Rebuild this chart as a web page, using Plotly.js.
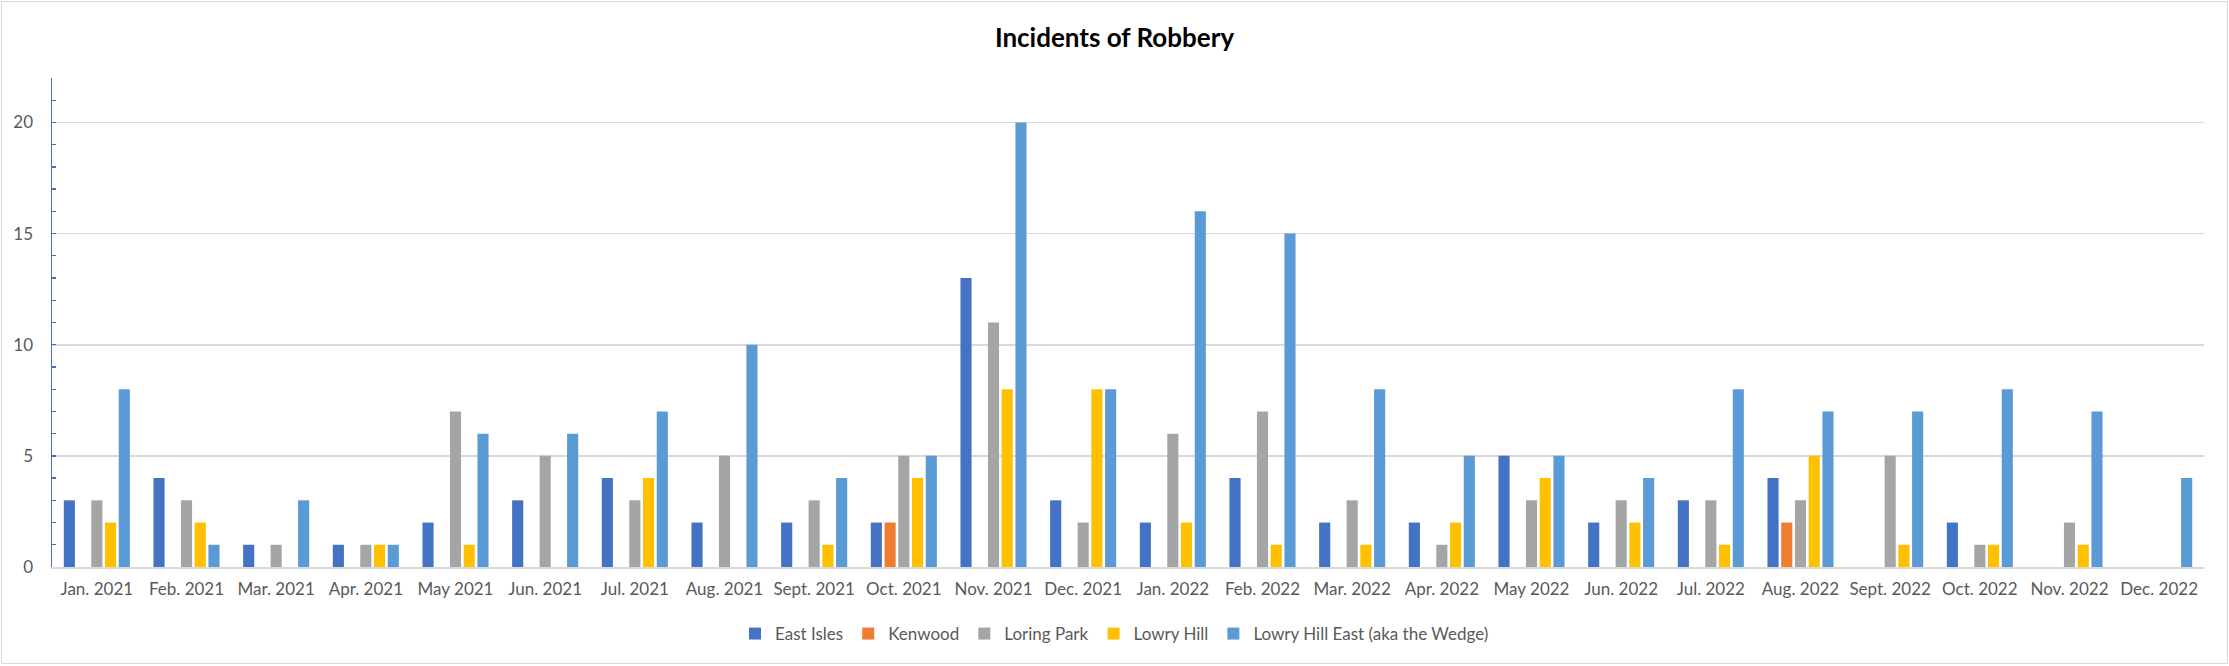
<!DOCTYPE html>
<html>
<head>
<meta charset="utf-8">
<script src="https://cdn.plot.ly/plotly-3.0.1.min.js"></script>
<style>
  html, body { margin: 0; padding: 0; background: #ffffff; }
  #wrap { position: relative; width: 2229px; height: 666px; }
  #chart { width: 2229px; height: 666px; }
  #frame { position: absolute; left: 1px; top: 1px; width: 2225px; height: 661px; border: 1px solid #d9d9d9; pointer-events: none; }
</style>
</head>
<body>
<div id="wrap">
  <div id="chart"></div>
  <div id="frame"></div>
</div>
<script>
const months = ["Jan. 2021","Feb. 2021","Mar. 2021","Apr. 2021","May 2021","Jun. 2021","Jul. 2021","Aug. 2021","Sept. 2021","Oct. 2021","Nov. 2021","Dec. 2021",
                "Jan. 2022","Feb. 2022","Mar. 2022","Apr. 2022","May 2022","Jun. 2022","Jul. 2022","Aug. 2022","Sept. 2022","Oct. 2022","Nov. 2022","Dec. 2022"];
const eastIsles     = [3,4,1,1,2,3,4,2,2,2,13,3, 2,4,2,2,5,2,3,4,0,2,0,0];
const kenwood       = [0,0,0,0,0,0,0,0,0,2,0,0, 0,0,0,0,0,0,0,2,0,0,0,0];
const loringPark    = [3,3,1,1,7,5,3,5,3,5,11,2, 6,7,3,1,3,3,3,3,5,1,2,0];
const lowryHill     = [2,2,0,1,1,0,4,0,1,4,8,8, 2,1,1,2,4,2,1,5,1,1,1,0];
const lowryHillEast = [8,1,3,1,6,6,7,10,4,5,20,8, 16,15,8,5,5,4,8,7,7,8,7,4];
const seriesNames = ["East Isles","Kenwood","Loring Park","Lowry Hill","Lowry Hill East (aka the Wedge)"];
const seriesColors = ["#4472C4","#ED7D31","#A5A5A5","#FFC000","#5B9BD5"];
const yTicks = [0,5,10,15,20];

const seriesValues = [eastIsles, kenwood, loringPark, lowryHill, lowryHillEast];
const traces = seriesValues.map((vals, i) => ({
  type: 'bar',
  name: seriesNames[i],
  x: months,
  y: vals,
  marker: { color: seriesColors[i], line: { width: 0 } },
  hoverinfo: 'x+y+name'
}));

const FONT = 'Lato, "Open Sans", sans-serif';
const layout = {
  width: 2229, height: 666,
  paper_bgcolor: '#ffffff', plot_bgcolor: '#ffffff',
  margin: { l: 52, r: 25, t: 78, b: 99, pad: 0 },
  font: { family: FONT, size: 17, color: '#595959' },
  title: {
    text: '<b>Incidents of Robbery</b>',
    font: { family: FONT, size: 26, color: '#000000' },
    x: 0.5, xref: 'container', xanchor: 'center',
    y: 1 - 38/666, yref: 'container', yanchor: 'middle'
  },
  barmode: 'group',
  bargap: 0.234,
  bargroupgap: 0.19,
  showlegend: true,
  legend: {
    orientation: 'h', x: 0.5, xanchor: 'center', xref: 'container',
    y: 1 - 634/666, yref: 'container', yanchor: 'middle',
    font: { family: FONT, size: 17, color: '#595959' },
    itemsizing: 'constant', traceorder: 'normal', bgcolor: 'rgba(0,0,0,0)'
  },
  xaxis: {
    type: 'category',
    showline: true, linecolor: '#d9d9d9', linewidth: 1.7,
    ticks: '', showgrid: false, zeroline: false,
    tickangle: 0,
    tickfont: { family: FONT, size: 17, color: '#595959' },
    ticklabelstandoff: 6,
    automargin: false
  },
  yaxis: {
    range: [0, 22],
    tickmode: 'array', tickvals: yTicks, ticktext: yTicks.map(String),
    showgrid: true, gridcolor: '#d9d9d9', gridwidth: 1.7,
    zeroline: false,
    showline: true, linecolor: '#4472C4', linewidth: 1.5,
    ticks: 'inside', ticklen: 4, tickcolor: '#4472C4', tickwidth: 1.3,
    minor: { tick0: 0, dtick: 1, ticks: 'inside', ticklen: 4, tickcolor: '#4472C4', tickwidth: 1.3, showgrid: false },
    tickfont: { family: FONT, size: 17, color: '#595959' },
    ticklabelstandoff: 14,
    automargin: false
  }
};

Plotly.newPlot('chart', traces, layout, { displayModeBar: false, staticPlot: true });
</script>
</body>
</html>
